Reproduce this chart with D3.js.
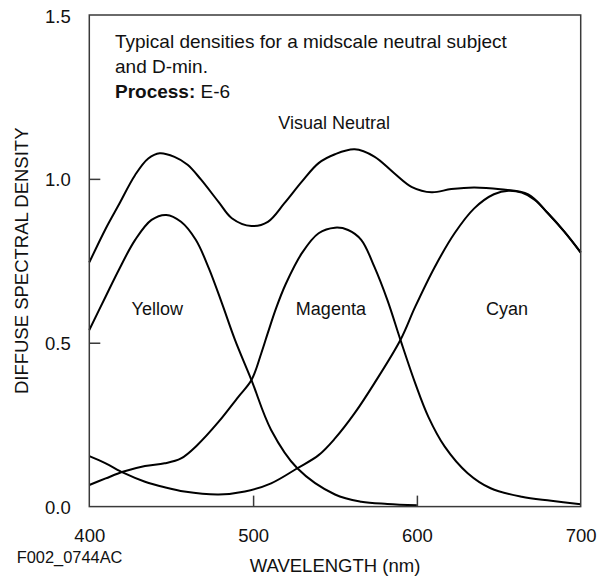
<!DOCTYPE html>
<html>
<head>
<meta charset="utf-8">
<script src="https://cdn.jsdelivr.net/npm/d3@7"></script>
<style>
  html, body { margin: 0; padding: 0; background: #fff; }
  text { font-family: "Liberation Sans", Arial, Helvetica, sans-serif; fill: #111; }
</style>
</head>
<body>
<svg id="chart" width="609" height="580"></svg>
<script>
// ---- data (wavelength nm, diffuse spectral density) ----
const visualNeutral = [[400,0.745],[410,0.848],[418,0.921],[428,1.012],[436,1.062],[443,1.078],[452,1.067],[460,1.043],[468,0.999],[479,0.929],[487,0.880],[499,0.856],[509,0.869],[519,0.925],[530,0.993],[540,1.048],[550,1.075],[562,1.090],[574,1.068],[586,1.018],[597,0.975],[609,0.959],[621,0.969],[635,0.974],[651,0.968],[668,0.953],[680,0.895],[690,0.839],[700,0.775]];
const yellow = [[400,0.539],[410,0.641],[418,0.722],[428,0.814],[438,0.875],[447,0.890],[456,0.869],[465,0.814],[473,0.727],[481,0.620],[489,0.508],[499,0.386],[511,0.234],[527,0.117],[550,0.037],[566,0.015],[582,0.008],[600,0.004]];
const magenta = [[400,0.066],[410,0.086],[421,0.107],[434,0.124],[446,0.132],[456,0.147],[466,0.188],[479,0.259],[491,0.335],[499,0.386],[505,0.468],[509,0.530],[514,0.605],[520,0.680],[530,0.775],[540,0.834],[550,0.851],[558,0.844],[566,0.814],[574,0.732],[582,0.630],[590,0.508],[599,0.376],[607,0.274],[617,0.183],[631,0.102],[645,0.056],[664,0.030],[682,0.018],[700,0.007]];
const cyan = [[400,0.154],[410,0.132],[421,0.103],[434,0.076],[446,0.059],[458,0.046],[479,0.037],[495,0.046],[511,0.071],[527,0.117],[540,0.157],[550,0.208],[562,0.285],[574,0.376],[590,0.509],[599,0.610],[611,0.732],[623,0.834],[635,0.910],[647,0.953],[656,0.964],[664,0.958],[672,0.936],[680,0.895],[690,0.839],[700,0.776]];

const xTicks = [400, 500, 600, 700];
const yTicks = [0.0, 0.5, 1.0, 1.5];
const xTickLabels = ["400", "500", "600", "700"];
const yTickLabels = ["0.0", "0.5", "1.0", "1.5"];
const curveLabels = [
  { text: "Yellow",  wl: 441.5 },
  { text: "Magenta", wl: 547.5 },
  { text: "Cyan",    wl: 655 }
];
const curveLabelDensity = 0.585;
const noteLines = ["Typical densities for a midscale neutral subject", "and D-min."];
const processLabel = "Process:";
const processValue = " E-6";
const neutralLabel = "Visual Neutral";
const neutralLabelPos = { wl: 549.5, density: 1.152 };
const xTitle = "WAVELENGTH (nm)";
const yTitle = "DIFFUSE SPECTRAL DENSITY";
const figId = "F002_0744AC";

// ---- layout ----
const mLeft = 89.3, mRight = 580.7, mTop = 15, mBottom = 506.6;
const svg = d3.select("#chart");

const x = d3.scaleLinear().domain([400, 700]).range([mLeft, mRight]);
const y = d3.scaleLinear().domain([0, 1.5]).range([mBottom, mTop]);

const line = d3.line()
  .x(d => x(d[0]))
  .y(d => y(d[1]))
  .curve(d3.curveCatmullRom.alpha(0.5));

// curves
const plot = svg.append("g");
[visualNeutral, yellow, magenta, cyan].forEach(series => {
  plot.append("path")
    .datum(series)
    .attr("d", line)
    .attr("fill", "none")
    .attr("stroke", "#000")
    .attr("stroke-width", 2)
    .attr("stroke-linejoin", "round");
});

// frame
svg.append("rect")
  .attr("x", mLeft).attr("y", mTop)
  .attr("width", mRight - mLeft).attr("height", mBottom - mTop)
  .attr("fill", "none").attr("stroke", "#3a3a3a").attr("stroke-width", 1.5);

// axes (inward ticks)
const xAxis = d3.axisBottom(x)
  .tickValues(xTicks)
  .tickFormat((d, i) => xTickLabels[i])
  .tickSizeInner(-11).tickSizeOuter(0).tickPadding(22.5);
const gx = svg.append("g").attr("transform", `translate(0,${mBottom})`).call(xAxis);
gx.select(".domain").remove();
gx.selectAll(".tick line").attr("stroke", "#3a3a3a").attr("stroke-width", 1.5)
  .attr("display", d => (d === 500 || d === 600) ? null : "none");
gx.selectAll(".tick text").attr("font-size", "18.5px").attr("fill", "#111")
  .style("font-family", "'Liberation Sans', Arial, sans-serif");

const yAxis = d3.axisLeft(y)
  .tickValues(yTicks)
  .tickFormat((d, i) => yTickLabels[i])
  .tickSizeInner(-11).tickSizeOuter(0).tickPadding(18.5);
const gy = svg.append("g").attr("transform", `translate(${mLeft},0)`).call(yAxis);
gy.select(".domain").remove();
gy.selectAll(".tick line").attr("stroke", "#3a3a3a").attr("stroke-width", 1.5)
  .attr("display", d => (d === 0.5 || d === 1.0) ? null : "none");
gy.selectAll(".tick text").attr("font-size", "18.5px").attr("fill", "#111").attr("dy", "0.38em")
  .style("font-family", "'Liberation Sans', Arial, sans-serif");

// axis titles
svg.append("text")
  .attr("x", (mLeft + mRight) / 2).attr("y", 571.7)
  .attr("text-anchor", "middle").attr("font-size", "18.5px")
  .text(xTitle);

svg.append("text")
  .attr("transform", `translate(28.3,${(mTop + mBottom) / 2}) rotate(-90)`)
  .attr("text-anchor", "middle").attr("font-size", "18.5px")
  .text(yTitle);

svg.append("text")
  .attr("x", 16.7).attr("y", 562.7)
  .attr("font-size", "16.4px")
  .text(figId);

// note
noteLines.forEach((t, i) => {
  svg.append("text")
    .attr("x", 115).attr("y", 47.7 + i * 25)
    .attr("font-size", "19px")
    .text(t);
});
const p = svg.append("text").attr("x", 115).attr("y", 97.5).attr("font-size", "19px");
p.append("tspan").attr("font-weight", "bold").text(processLabel);
p.append("tspan").text(processValue);

// curve labels
svg.append("text")
  .attr("x", x(neutralLabelPos.wl)).attr("y", y(neutralLabelPos.density))
  .attr("text-anchor", "middle").attr("font-size", "18px")
  .text(neutralLabel);

curveLabels.forEach(c => {
  svg.append("text")
    .attr("x", x(c.wl)).attr("y", y(curveLabelDensity))
    .attr("text-anchor", "middle").attr("font-size", "18px")
    .text(c.text);
});
</script>
</body>
</html>
